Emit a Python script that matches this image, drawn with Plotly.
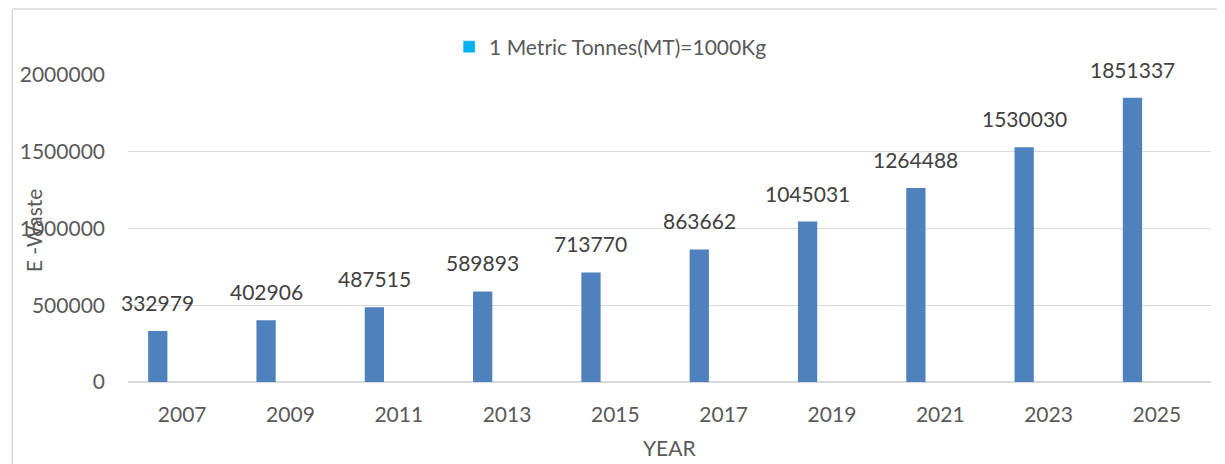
import plotly.graph_objects as go

years = ["2007", "2009", "2011", "2013", "2015", "2017", "2019", "2021", "2023", "2025"]
ewaste = [332979, 402906, 487515, 589893, 713770, 863662, 1045031, 1264488, 1530030, 1851337]
legend_name = "1 Metric Tonnes(MT)=1000Kg"

OFF = 8  # default page body margin
W, H = 1225 - OFF, 464 - OFF
ML, MR, MT, MB = 125 - OFF, 1225 - 1211, 75 - OFF, 464 - 382
PW, PH = W - ML - MR, H - MT - MB

def px_x(p):
    return (p - OFF - ML) / PW

def px_y(p):
    return (H - MB - (p - OFF)) / PH

bar_offset = -0.225
bar_width = 0.178
idx = list(range(len(years)))
xpos = [i + bar_offset for i in idx]

font = "Lato, 'Open Sans', sans-serif"
FS = 21

fig = go.Figure()
fig.add_trace(go.Bar(x=xpos, y=ewaste, width=bar_width,
                     marker=dict(color="#4F81BD", line=dict(width=0)),
                     showlegend=False, hoverinfo="y"))
fig.add_trace(go.Bar(x=[None], y=[None], name=legend_name,
                     marker=dict(color="#00B0F0"), showlegend=True))

for x, v in zip(xpos, ewaste):
    fig.add_annotation(x=x, y=v, text=str(v), showarrow=False, yanchor="bottom",
                       yshift=14, font=dict(family=font, size=FS, color="#404040"))

fig.add_annotation(xref="paper", yref="paper", x=px_x(30), y=px_y(230), text="E -Waste",
                   textangle=-90, showarrow=False, xanchor="center", yanchor="middle",
                   font=dict(family=font, size=FS, color="#595959"))
fig.add_annotation(xref="paper", yref="paper", x=px_x(668), y=px_y(447), text="YEAR",
                   showarrow=False, xanchor="center", yanchor="middle",
                   font=dict(family=font, size=FS, color="#595959"))

border = dict(color="#D9D9D9", width=1.5)
fig.add_shape(type="line", xref="paper", yref="paper", x0=px_x(9), x1=px_x(1225),
              y0=px_y(9), y1=px_y(9), line=border, layer="below")
fig.add_shape(type="line", xref="paper", yref="paper", x0=px_x(9), x1=px_x(9),
              y0=px_y(9), y1=px_y(464), line=border, layer="below")

fig.update_layout(
    width=W, height=H,
    margin=dict(l=ML, r=MR, t=MT, b=MB),
    paper_bgcolor="white", plot_bgcolor="white",
    barmode="overlay",
    font=dict(family=font, size=FS, color="#595959"),
    legend=dict(orientation="h", x=px_x(447), xanchor="left", y=px_y(47), yanchor="middle",
                font=dict(family=font, size=FS, color="#595959"), bgcolor="rgba(0,0,0,0)"),
    xaxis=dict(range=[-0.5, len(years) - 0.5], tickvals=idx, ticktext=years,
               showgrid=False, zeroline=False, showline=False, ticks="",
               ticklabelstandoff=18, tickfont=dict(family=font, size=FS, color="#595959")),
    yaxis=dict(range=[0, 2000000], tickvals=[0, 500000, 1000000, 1500000, 2000000],
               ticktext=["0", "500000", "1000000", "1500000", "2000000"],
               showgrid=True, gridcolor="#D9D9D9", gridwidth=1, zeroline=True,
               zerolinecolor="#D9D9D9", zerolinewidth=1.5, showline=False, ticks="",
               ticklabelstandoff=22, tickfont=dict(family=font, size=FS, color="#595959")),
    showlegend=True,
)

fig.write_html("out.html")
